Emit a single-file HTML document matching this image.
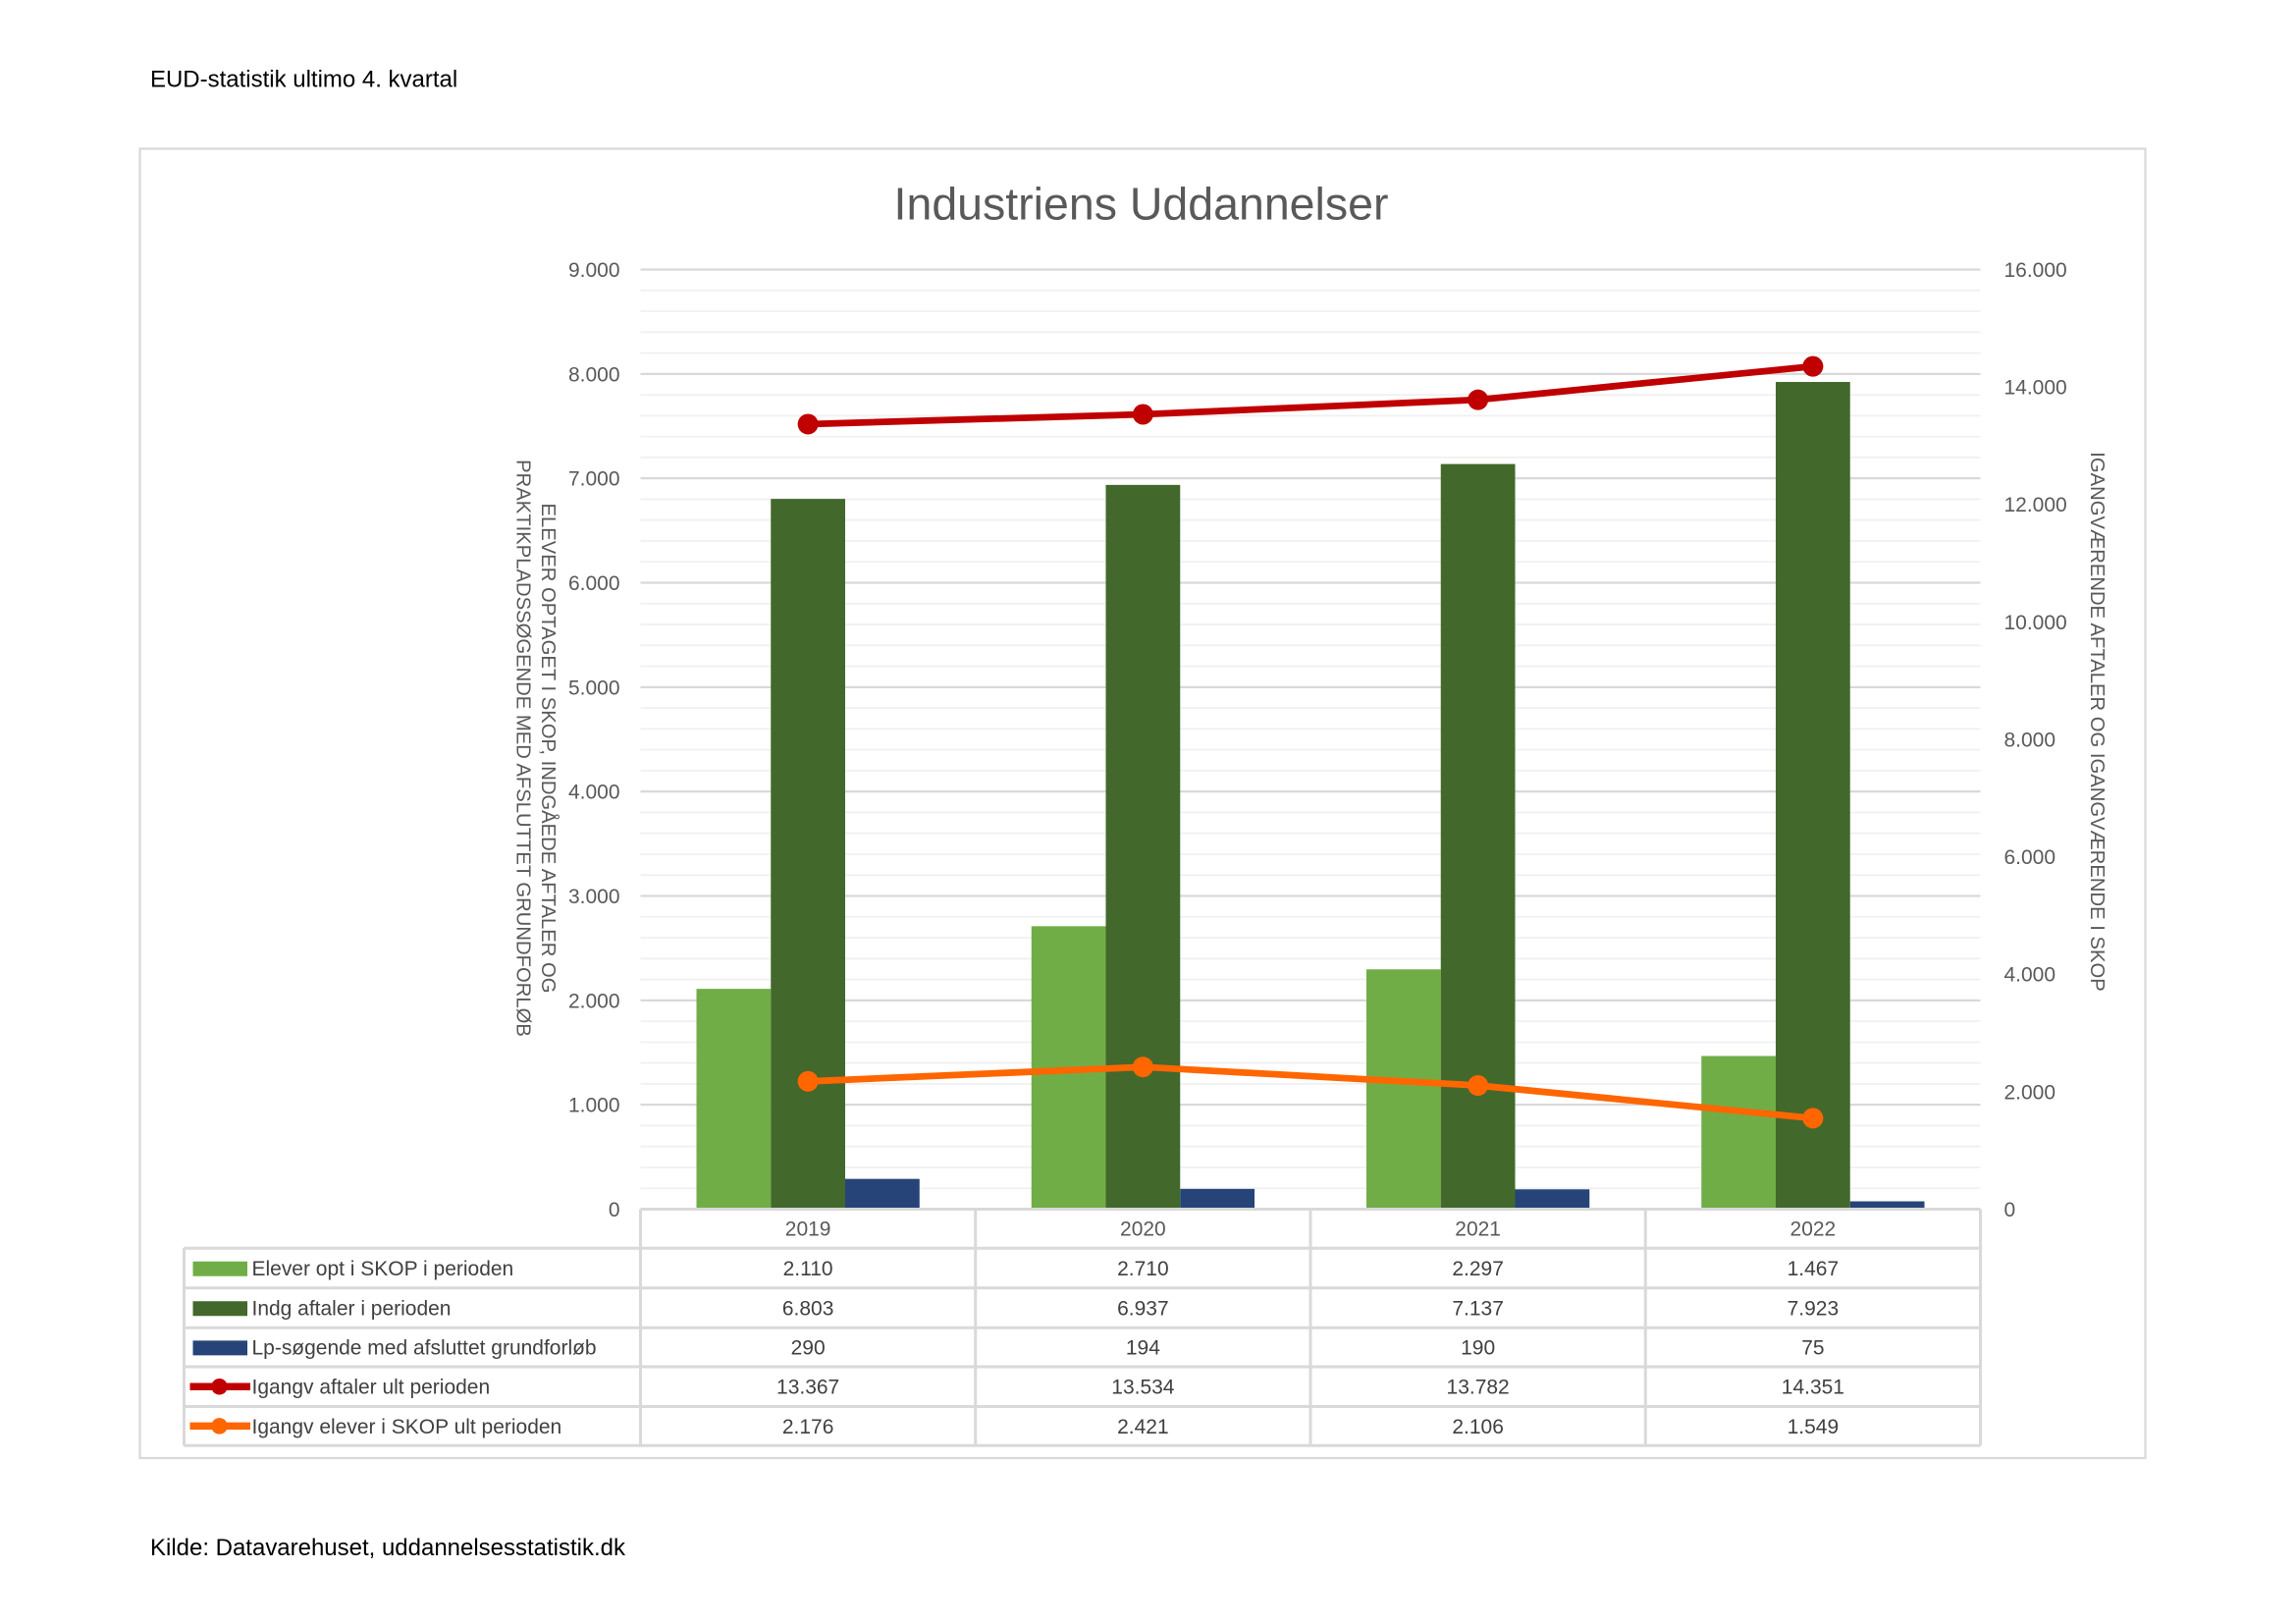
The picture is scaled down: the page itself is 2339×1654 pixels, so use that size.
<!DOCTYPE html>
<html><head><meta charset="utf-8"><style>
html,body{margin:0;padding:0;background:#fff;}
svg{display:block;font-family:"Liberation Sans",sans-serif;}
</style></head><body>
<svg id="chart" width="2339" height="1654" viewBox="0 0 1559.33 1102.67" xmlns="http://www.w3.org/2000/svg">
<text x="102" y="59" font-size="16" fill="#000">EUD-statistik ultimo 4. kvartal</text>
<rect x="95" y="101" width="1362" height="889" fill="#fff" stroke="#d9d9d9" stroke-width="1.5"/>
<text x="775" y="149" font-size="31" fill="#595959" text-anchor="middle">Industriens Uddannelser</text>
<g id="grid"></g>
<g id="yl"></g>
<g id="yr"></g>
<text transform="translate(363,508) rotate(90)" font-size="13.5" fill="#595959" text-anchor="middle"><tspan x="0" dy="-5">ELEVER OPTAGET I SKOP, INDGÅEDE AFTALER OG</tspan><tspan x="0" dy="17">PRAKTIKPLADSSØGENDE MED AFSLUTTET GRUNDFORLØB</tspan></text>
<text transform="translate(1420,490) rotate(90)" font-size="13.5" fill="#595959" text-anchor="middle">IGANGVÆRENDE AFTALER OG IGANGVÆRENDE I SKOP</text>
<g id="bars"></g>
<g id="lines"></g>
<g id="table"></g>
<text x="102" y="1056" font-size="16" fill="#000">Kilde: Datavarehuset, uddannelsesstatistik.dk</text>
</svg>
<script>
const categories = ["2019","2020","2021","2022"];
const eleverOpt = [2110,2710,2297,1467];
const indgAftaler = [6803,6937,7137,7923];
const lpSogende = [290,194,190,75];
const igangvAftaler = [13367,13534,13782,14351];
const igangvElever = [2176,2421,2106,1549];
const leftTicks = [0,1000,2000,3000,4000,5000,6000,7000,8000,9000];
const rightTicks = [0,2000,4000,6000,8000,10000,12000,14000,16000];
const seriesNames = ["Elever opt i SKOP i perioden","Indg aftaler i perioden","Lp-søgende med afsluttet grundforløb","Igangv aftaler ult perioden","Igangv elever i SKOP ult perioden"];

const NS="http://www.w3.org/2000/svg";
const X0=435,X1=1345,Y0=821,Y1=183;
const catW=(X1-X0)/categories.length;
const yL=v=>Y0-(v/9000)*(Y0-Y1);
const yR=v=>Y0-(v/16000)*(Y0-Y1);
const xC=i=>X0+catW*(i+0.5);
const fmt=v=>v.toLocaleString('de-DE');
function mk(tag,attrs,parent,text){const e=document.createElementNS(NS,tag);for(const k in attrs)e.setAttribute(k,attrs[k]);if(text!==undefined)e.textContent=text;parent.appendChild(e);return e;}
const grid=document.getElementById('grid');
for(let v=0;v<=9000;v+=200){
  const major=v%1000===0;
  const g=mk('line',{x1:X0,x2:X1,y1:yL(v),y2:yL(v),stroke:major?'#d9d9d9':'#f0f0f0','stroke-width':major?1.5:1.2},grid);
  
  
}
const yl=document.getElementById('yl');
leftTicks.forEach(v=>{const t=mk('text',{x:421,y:yL(v)+5,'font-size':14,fill:'#595959','text-anchor':'end'},yl,fmt(v));

});
const yr=document.getElementById('yr');
rightTicks.forEach(v=>{const t=mk('text',{x:1361,y:yR(v)+5,'font-size':14,fill:'#595959'},yr,fmt(v));

});
const bars=document.getElementById('bars');
const bw=50.5;
const barSeries=[[eleverOpt,'#70ad47'],[indgAftaler,'#43682b'],[lpSogende,'#264478']];
categories.forEach((c,i)=>{
  barSeries.forEach((s,j)=>{
    const x=xC(i)-bw*1.5+bw*j;
    const r=mk('rect',{x:x,y:yL(s[0][i]),width:bw,height:Y0-yL(s[0][i]),fill:s[1]},bars);
    
    
  });
});
const lines=document.getElementById('lines');
[[igangvAftaler,'#c00000'],[igangvElever,'#ff6600']].forEach((s,j)=>{
  const pts=s[0].map((v,i)=>xC(i)+','+yR(v)).join(' ');
  const p=mk('polyline',{points:pts,fill:'none',stroke:s[1],'stroke-width':4.5,'stroke-linejoin':'round'},lines);
  
  
  s[0].forEach((v,i)=>{const m=mk('circle',{cx:xC(i),cy:yR(v),r:7,fill:s[1]},lines);
  
  });
});
const tb=document.getElementById('table');
const rowY=[821,847.5,874.5,901.5,928,955,981.5];
const gc='#d9d9d9';
// header
mk('line',{x1:X0,x2:X1,y1:Y0,y2:Y0,stroke:gc,'stroke-width':2},tb);
for(let k=0;k<=categories.length;k++){mk('line',{x1:X0+catW*k,x2:X0+catW*k,y1:rowY[0],y2:rowY[6],stroke:gc,'stroke-width':2},tb);}
for(let r=1;r<=6;r++){mk('line',{x1:125,x2:X1,y1:rowY[r],y2:rowY[r],stroke:gc,'stroke-width':2},tb);}
mk('line',{x1:125,x2:125,y1:rowY[1],y2:rowY[6],stroke:gc,'stroke-width':2},tb);
categories.forEach((c,i)=>{const t=mk('text',{x:xC(i),y:839,'font-size':14,fill:'#595959','text-anchor':'middle'},tb,c);

});
const allSeries=[eleverOpt,indgAftaler,lpSogende,igangvAftaler,igangvElever];
const colors=['#70ad47','#43682b','#264478','#c00000','#ff6600'];
allSeries.forEach((s,r)=>{
  const cy=(rowY[r+1]+rowY[r+2])/2;
  if(r<3){const k=mk('rect',{x:131,y:cy-4.5,width:37,height:10,fill:colors[r]},tb);
    
    }
  else{const k=mk('g',{},tb);
    
    
    mk('line',{x1:129,x2:170,y1:cy,y2:cy,stroke:colors[r],'stroke-width':5},k);
    mk('circle',{cx:149,cy:cy,r:5.5,fill:colors[r]},k);}
  const lt=mk('text',{x:171,y:cy+5,'font-size':14,fill:'#404040'},tb,seriesNames[r]);
  
  
  s.forEach((v,i)=>{const t=mk('text',{x:xC(i),y:cy+5,'font-size':14,fill:'#404040','text-anchor':'middle'},tb,fmt(v));
  
  });
});
</script>
</body></html>
